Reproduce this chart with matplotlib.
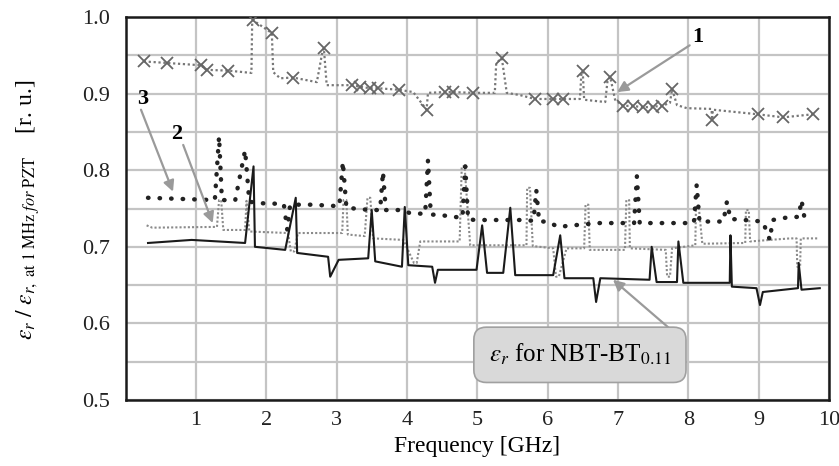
import matplotlib
matplotlib.use("Agg")
import matplotlib.pyplot as plt

plt.rcParams['font.family'] = ['Liberation Serif', 'DejaVu Serif']
plt.rcParams['mathtext.fontset'] = 'stix'

# Series 1 (PZT-like, gray dotted with x markers)
s1_line_x = [0.26, 0.59, 1.07, 1.16, 1.46, 1.79, 1.80, 1.81, 2.08, 2.10, 2.20, 2.38, 2.72, 2.80, 2.82, 2.86,
             3.22, 3.33, 3.48, 3.59, 3.89, 4.09, 4.28, 4.30, 4.54, 4.66, 4.94, 5.25, 5.27, 5.35, 5.42, 5.61,
             5.82, 6.08, 6.22, 6.46, 6.48, 6.50, 6.52, 6.72, 6.82, 6.85, 6.89, 6.96, 7.07, 7.21, 7.36, 7.50,
             7.63, 7.74, 7.77, 7.84, 7.98, 8.33, 8.34, 8.35, 8.99, 9.35, 9.77]
s1_line_y = [0.942, 0.940, 0.937, 0.931, 0.930, 0.927, 0.990, 0.996, 0.979, 0.928, 0.920, 0.921, 0.915, 0.955, 0.959, 0.911,
             0.911, 0.909, 0.907, 0.907, 0.905, 0.902, 0.879, 0.901, 0.902, 0.902, 0.901, 0.901, 0.940, 0.946, 0.901, 0.898,
             0.893, 0.893, 0.893, 0.893, 0.925, 0.929, 0.892, 0.890, 0.889, 0.915, 0.922, 0.892, 0.884, 0.884, 0.882, 0.883,
             0.884, 0.888, 0.906, 0.885, 0.881, 0.880, 0.866, 0.879, 0.873, 0.869, 0.873]
s1_mark_x = [0.26, 0.59, 1.07, 1.16, 1.46, 1.81, 2.08, 2.38, 2.82, 3.22, 3.33, 3.48, 3.59, 3.89, 4.28, 4.54, 4.66,
             4.94, 5.35, 5.82, 6.08, 6.22, 6.50, 6.89, 7.07, 7.21, 7.36, 7.50, 7.63, 7.77, 8.34, 8.99, 9.35, 9.77]
s1_mark_y = [0.942, 0.940, 0.937, 0.931, 0.930, 0.996, 0.979, 0.921, 0.959, 0.911, 0.909, 0.907, 0.907, 0.905, 0.879,
             0.902, 0.902, 0.901, 0.946, 0.893, 0.893, 0.893, 0.929, 0.922, 0.884, 0.884, 0.882, 0.883, 0.884, 0.906,
             0.866, 0.873, 0.869, 0.873]

# Series 3 (black heavy dots)
s3_x = [0.32, 1.27, 1.33, 1.37, 1.56, 1.70, 1.76, 1.88, 2.25, 2.30, 2.34, 2.65, 3.04, 3.09, 3.14, 3.48, 3.62, 3.66,
        3.70, 3.95, 4.04, 4.26, 4.30, 4.34, 4.43, 4.68, 4.79, 4.83, 4.87, 4.97, 5.61, 5.80, 5.84, 5.88, 6.00, 6.15,
        6.36, 6.72, 7.07, 7.23, 7.27, 7.31, 8.03, 8.08, 8.12, 8.16, 8.50, 8.55, 8.60, 8.67, 9.06, 9.16, 9.20, 9.45,
        9.57, 9.61, 9.65, 9.73]
s3_y = [0.764, 0.761, 0.844, 0.761, 0.761, 0.826, 0.759, 0.757, 0.756, 0.722, 0.755, 0.755, 0.753, 0.811, 0.751, 0.748,
        0.748, 0.798, 0.748, 0.748, 0.744, 0.743, 0.813, 0.742, 0.742, 0.739, 0.738, 0.805, 0.736, 0.735, 0.735, 0.734,
        0.774, 0.733, 0.733, 0.726, 0.728, 0.731, 0.731, 0.731, 0.792, 0.731, 0.731, 0.731, 0.781, 0.733, 0.733, 0.759,
        0.736, 0.736, 0.733, 0.709, 0.735, 0.739, 0.739, 0.761, 0.739, 0.739]

# Series 2 (gray fine dotted)
s2_x = [0.30, 0.38, 1.30, 1.33, 1.36, 1.39, 1.70, 1.72, 1.76, 2.31, 2.35, 2.40, 2.45, 3.08, 3.10, 3.14, 3.16, 3.40,
        3.44, 3.48, 3.52, 3.95, 4.10, 4.14, 4.19, 4.75, 4.78, 4.82, 4.90, 5.70, 5.71, 5.75, 5.79, 6.08, 6.12, 6.16,
        6.27, 6.52, 6.54, 6.58, 6.60, 7.10, 7.12, 7.16, 7.17, 7.68, 7.70, 7.74, 7.77, 8.10, 8.11, 8.15, 8.20, 8.81,
        8.82, 8.86, 8.88, 9.16, 9.45, 9.54, 9.55, 9.59, 9.60, 9.84]
s2_y = [0.728, 0.725, 0.726, 0.761, 0.761, 0.722, 0.722, 0.760, 0.720, 0.718, 0.694, 0.694, 0.718, 0.718, 0.761, 0.761,
        0.716, 0.714, 0.764, 0.764, 0.711, 0.709, 0.679, 0.679, 0.707, 0.707, 0.805, 0.805, 0.702, 0.702, 0.777, 0.777,
        0.701, 0.698, 0.661, 0.661, 0.698, 0.698, 0.755, 0.755, 0.696, 0.696, 0.761, 0.761, 0.698, 0.696, 0.661, 0.661,
        0.698, 0.702, 0.752, 0.752, 0.704, 0.705, 0.748, 0.748, 0.707, 0.709, 0.711, 0.711, 0.674, 0.674, 0.711, 0.711]

# NBT-BT0.11 (black solid)
nbt_x = [0.32, 0.94, 1.70, 1.82, 1.84, 2.27, 2.42, 2.44, 2.88, 2.91, 3.03, 3.45, 3.50, 3.55, 3.93, 3.97, 4.02, 4.36,
         4.40, 4.44, 4.99, 5.07, 5.14, 5.37, 5.47, 5.54, 6.08, 6.18, 6.24, 6.65, 6.69, 6.75, 7.45, 7.48, 7.55, 7.84,
         7.86, 7.93, 8.59, 8.60, 8.62, 8.97, 9.02, 9.06, 9.56, 9.57, 9.61, 9.87]
nbt_y = [0.705, 0.709, 0.705, 0.805, 0.700, 0.696, 0.764, 0.692, 0.687, 0.661, 0.683, 0.685, 0.748, 0.681, 0.674, 0.752,
         0.676, 0.674, 0.653, 0.670, 0.670, 0.728, 0.666, 0.666, 0.751, 0.663, 0.663, 0.715, 0.659, 0.659, 0.628, 0.659,
         0.657, 0.700, 0.654, 0.654, 0.707, 0.653, 0.653, 0.715, 0.648, 0.646, 0.624, 0.641, 0.646, 0.679, 0.644, 0.646]

x_ticks = [1, 2, 3, 4, 5, 6, 7, 8, 9, 10]
y_ticks = [0.5, 0.55, 0.6, 0.65, 0.7, 0.75, 0.8, 0.85, 0.9, 0.95, 1.0]
y_labels = ['0.5', '', '0.6', '', '0.7', '', '0.8', '', '0.9', '', '1.0']

fig = plt.figure(figsize=(8.39, 4.66), dpi=100)
ax = fig.add_axes([0.1496, 0.1416, 0.8384, 0.8219])
ax.set_xlim(0, 10)
ax.set_ylim(0.5, 1.0)

ax.grid(True, which='major', color='#c4c4c4', lw=1.6, zorder=0)
ax.set_axisbelow(True)
ax.set_xticks(x_ticks)
ax.set_xticklabels([str(t) for t in x_ticks])
ax.set_yticks(y_ticks)
ax.set_yticklabels(y_labels)
ax.tick_params(axis='both', length=0, labelsize=16, colors='#222222')
ax.tick_params(axis='y', pad=11)
ax.tick_params(axis='x', pad=8)
for sp in ax.spines.values():
    sp.set_color('#1a1a1a')
    sp.set_linewidth(1.8)

ax.plot(s1_line_x, s1_line_y, color='#777777', lw=1.6, linestyle=(0, (1, 1.2)), zorder=3)
ax.plot(s1_mark_x, s1_mark_y, linestyle='none', marker='x', ms=9, mew=1.3, color='#666666', zorder=4)
ax.plot(s2_x, s2_y, color='#8a8a8a', lw=1.5, linestyle=(0, (1, 1)), zorder=3)
ax.plot(s3_x, s3_y, color='#222222', lw=3.2, linestyle=(0, (0.1, 2.5)), dash_capstyle='round', zorder=3)
ax.plot(nbt_x, nbt_y, color='#1a1a1a', lw=1.5, zorder=5)

arrow = dict(arrowstyle='-|>', color='#9a9a9a', lw=1.6, mutation_scale=16, shrinkA=0, shrinkB=0)
ax.annotate('', xy=(6.99, 0.902), xytext=(8.02, 0.963), arrowprops=arrow, zorder=6)
ax.text(8.14, 0.974, '1', fontsize=16, fontweight='bold', ha='center', va='center', zorder=7)
ax.annotate('', xy=(0.675, 0.772), xytext=(0.22, 0.879), arrowprops=arrow, zorder=6)
ax.text(0.25, 0.893, '3', fontsize=16, fontweight='bold', ha='center', va='center', zorder=7)
ax.annotate('', xy=(1.24, 0.731), xytext=(0.82, 0.833), arrowprops=arrow, zorder=6)
ax.text(0.73, 0.847, '2', fontsize=16, fontweight='bold', ha='center', va='center', zorder=7)
ax.annotate('', xy=(6.93, 0.657), xytext=(7.84, 0.585), arrowprops=arrow, zorder=6)
ax.text(6.46, 0.559, r'$\varepsilon_r$ for NBT-BT$_{0.11}$', fontsize=18, ha='center', va='center', zorder=8,
        bbox=dict(boxstyle='round,pad=0.6,rounding_size=0.5', fc='#d9d9d9', ec='#a0a0a0', lw=1.2))

ax.set_xlabel('Frequency [GHz]', fontsize=17, labelpad=4)
fig.text(0.033, 0.55, r'$\varepsilon_r\ /\ \varepsilon_{r,\ \mathrm{at\ 1\ MHz}\ for\ \mathrm{PZT}}$    [r. u.]',
         rotation=90, fontsize=17, ha='center', va='center')

fig.savefig('out.png', dpi=100)
